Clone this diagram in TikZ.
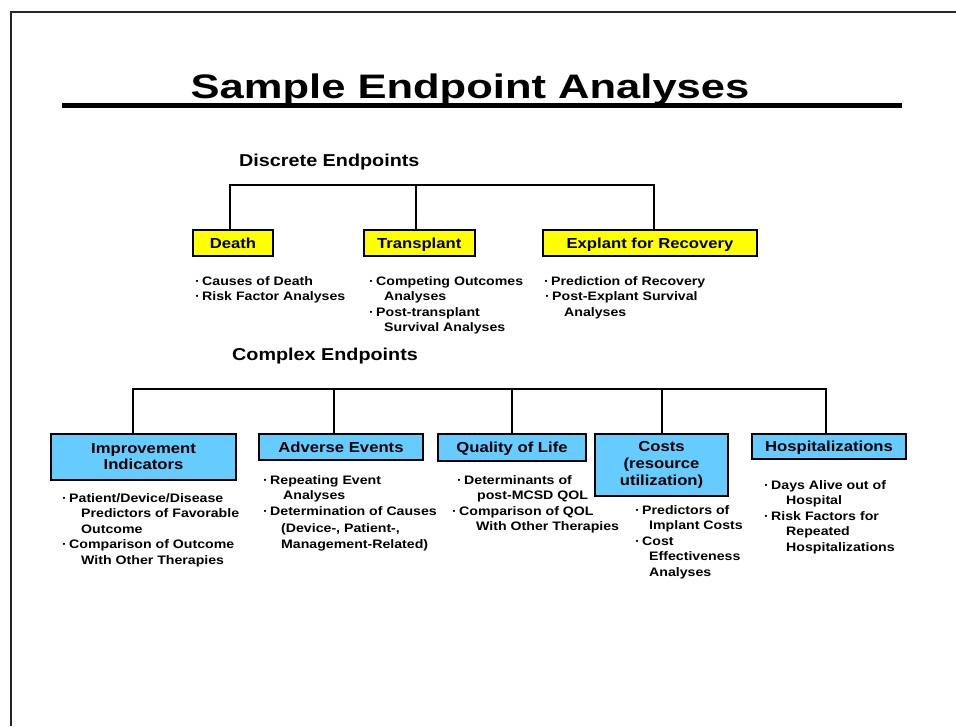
\documentclass[tikz,border=0pt]{standalone}
\usepackage{fontspec}
\setmainfont{Liberation Sans}[FakeStretch=1.15]
\newfontfamily\titlefont{Liberation Sans}[FakeStretch=1.28]
\usepackage{tikz}
\usetikzlibrary{positioning,calc}
\definecolor{discyellow}{RGB}{255,255,0}
\definecolor{compblue}{RGB}{102,204,255}
\newcommand{\bul}{·\hspace{2.3pt}}

\begin{document}
\begin{tikzpicture}[x=1pt,y=-1pt,
    endbox/.style={draw=black,line width=2.2pt,inner sep=0pt,align=center,
      font=\fontsize{14.5}{17}\selectfont\bfseries},
    oneline/.style={text height=10.4pt,text depth=0pt},
    discbox/.style={endbox,oneline,fill=discyellow,minimum height=25.8pt},
    compbox/.style={endbox,fill=compblue},
    bullets/.style={anchor=north west,inner sep=0pt,align=left,
      font=\fontsize{12.3}{15.5}\selectfont\bfseries},
    heading/.style={anchor=base west,inner sep=0pt,
      font=\fontsize{17.2}{20}\selectfont\bfseries},
    tree/.style={line width=1.8pt}]
      \useasboundingbox (0,0) rectangle (956,726);
      % Slide frame
      \draw[line width=1.6pt,black!85] (11,726) -- (11,12) -- (956,12);
      % Title
      \node[anchor=base,inner sep=0pt,font=\titlefont\fontsize{34}{40}\selectfont\bfseries]
        (title) at (470,98) {Sample Endpoint Analyses};
      \draw[line width=5pt] (62,105.5) -- (902,105.5);
      % Discrete endpoints
      \node[heading] (discrete) at (239,166.5) {Discrete Endpoints};
      \node[discbox,minimum width=80pt] (death) at (233,243) {Death};
      \node[discbox,minimum width=110.8pt] (transplant) at (419.2,243) {Transplant};
      \node[discbox,minimum width=214pt] (explant) at (650,243) {Explant for Recovery};
      \coordinate (dj1) at (230,185);
      \coordinate (dj2) at (416,185);
      \coordinate (dj3) at (654,185);
      \draw[tree] (dj1 |- death.north) -- (dj1) -- (dj3) -- (dj3 |- explant.north);
      \draw[tree] (dj2) -- (dj2 |- transplant.north);
      \node[bullets] (deathlist) at (195,276)
        {\bul Causes of Death\\ \bul Risk Factor Analyses};
      \node[bullets] (transplantlist) at (369,276)
        {\bul Competing Outcomes\\ \hspace*{15pt}Analyses\\
         \bul Post-transplant\\ \hspace*{15pt}Survival Analyses};
      \node[bullets] (explantlist) at (544,276)
        {\bul Prediction of Recovery\\ \hspace*{1pt}\bul Post-Explant Survival\\
         \hspace*{20pt}Analyses};
      % Complex endpoints
      \node[heading] (complex) at (232,360.7) {Complex Endpoints};
      \node[compbox,minimum width=184.8pt,minimum height=45.8pt] (improve) at (143.5,457)
        {Improvement\\[-1pt]Indicators};
      \node[compbox,oneline,minimum width=163.8pt,minimum height=25.8pt] (adverse) at (341,447)
        {Adverse Events};
      \node[compbox,oneline,minimum width=147.8pt,minimum height=26.8pt] (quality) at (512,447.5)
        {Quality of Life};
      \node[compbox,minimum width=132.8pt,minimum height=61.8pt] (costs) at (661.5,465)
        {Costs\\(resource\\utilization)};
      \node[compbox,oneline,minimum width=153.8pt,minimum height=24.8pt] (hosp) at (829,446.5)
        {Hospitalizations};
      \coordinate (cj1) at (133,389);
      \coordinate (cj2) at (334,389);
      \coordinate (cj3) at (512,389);
      \coordinate (cj4) at (662,389);
      \coordinate (cj5) at (826,389);
      \draw[tree] (cj1 |- improve.north) -- (cj1) -- (cj5) -- (cj5 |- hosp.north);
      \draw[tree] (cj2) -- (cj2 |- adverse.north);
      \draw[tree] (cj3) -- (cj3 |- quality.north);
      \draw[tree] (cj4) -- (cj4 |- costs.north);
      \node[bullets] (improvelist) at (62,493)
        {\bul Patient/Device/Disease\\ \hspace*{19pt}Predictors of Favorable\\
         \hspace*{19pt}Outcome\\ \bul Comparison of Outcome\\
         \hspace*{19pt}With Other Therapies};
      \node[bullets] (adverselist) at (263,475)
        {\bul Repeating Event\\ \hspace*{20pt}Analyses\\
         \bul Determination of Causes\\[2pt] \hspace*{18pt}(Device-, Patient-,\\
         \hspace*{18pt}Management-Related)};
      \node[bullets] (qualitylist) at (452,475)
        {\hspace*{5pt}\bul Determinants of\\ \hspace*{25pt}post-MCSD QOL\\
         \bul Comparison of QOL\\ \hspace*{24pt}With Other Therapies};
      \node[bullets] (costslist) at (635,505)
        {\bul Predictors of\\ \hspace*{14pt}Implant Costs\\ \bul Cost\\
         \hspace*{14pt}Effectiveness\\ \hspace*{14pt}Analyses};
      \node[bullets] (hosplist) at (764,480)
        {\bul Days Alive out of\\ \hspace*{22pt}Hospital\\ \bul Risk Factors for\\
         \hspace*{22pt}Repeated\\ \hspace*{22pt}Hospitalizations};
    \end{tikzpicture}
\end{document}
